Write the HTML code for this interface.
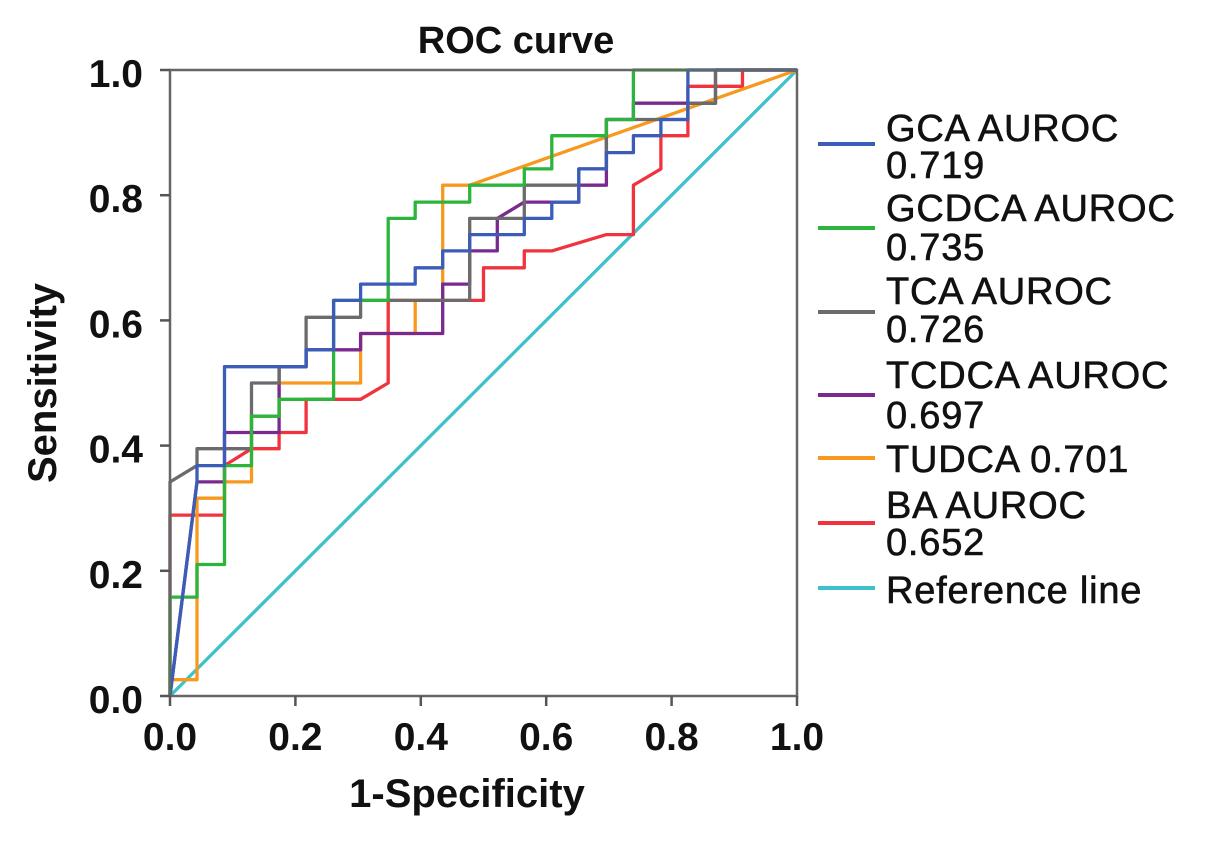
<!DOCTYPE html>
<html><head><meta charset="utf-8"><style>
html,body{margin:0;padding:0;background:#fff;}
svg text{font-family:"Liberation Sans",Arial,sans-serif;}
</style></head><body>
<svg width="1205" height="841" viewBox="0 0 1205 841">
<g id="plot"></g>
<g id="axes"></g>
<g id="legend"></g>
</svg>
<script>
const xTicks = [0.0, 0.2, 0.4, 0.6, 0.8, 1.0];
const yTicks = [0.0, 0.2, 0.4, 0.6, 0.8, 1.0];
const seriesNames = ["GCA AUROC 0.719","GCDCA AUROC 0.735","TCA AUROC 0.726","TCDCA AUROC 0.697","TUDCA 0.701","BA AUROC 0.652","Reference line"];
const gcaPts = [[0,0],[0.043,0.342],[0.043,0.368],[0.087,0.368],[0.087,0.526],[0.217,0.526],[0.217,0.553],[0.261,0.553],[0.261,0.632],[0.304,0.632],[0.304,0.658],[0.391,0.658],[0.391,0.684],[0.435,0.684],[0.435,0.711],[0.478,0.711],[0.478,0.737],[0.565,0.737],[0.565,0.763],[0.609,0.763],[0.609,0.789],[0.652,0.789],[0.652,0.842],[0.696,0.842],[0.696,0.868],[0.739,0.868],[0.739,0.895],[0.783,0.895],[0.783,0.921],[0.826,0.921],[0.826,1],[1,1]];
const gcdcaPts = [[0,0],[0,0.158],[0.043,0.158],[0.043,0.21],[0.087,0.21],[0.087,0.368],[0.13,0.368],[0.13,0.447],[0.174,0.447],[0.174,0.474],[0.261,0.474],[0.261,0.632],[0.348,0.632],[0.348,0.763],[0.391,0.763],[0.391,0.789],[0.478,0.789],[0.478,0.816],[0.565,0.816],[0.565,0.842],[0.609,0.842],[0.609,0.895],[0.696,0.895],[0.696,0.921],[0.739,0.921],[0.739,1],[1,1]];
const tcaPts = [[0,0],[0,0.342],[0.043,0.368],[0.043,0.395],[0.13,0.395],[0.13,0.5],[0.174,0.5],[0.174,0.526],[0.217,0.526],[0.217,0.605],[0.304,0.605],[0.304,0.632],[0.478,0.632],[0.478,0.763],[0.565,0.763],[0.565,0.816],[0.652,0.816],[0.652,0.842],[0.696,0.842],[0.696,0.921],[0.826,0.921],[0.826,0.947],[0.87,0.947],[0.87,1],[1,1]];
const tcdcaPts = [[0,0],[0.043,0.342],[0.087,0.342],[0.087,0.421],[0.174,0.421],[0.174,0.526],[0.217,0.526],[0.217,0.553],[0.304,0.553],[0.304,0.579],[0.435,0.579],[0.435,0.658],[0.478,0.658],[0.478,0.711],[0.522,0.711],[0.522,0.763],[0.565,0.789],[0.652,0.789],[0.652,0.816],[0.696,0.816],[0.696,0.921],[0.739,0.921],[0.739,0.947],[0.87,0.947],[0.87,1],[1,1]];
const tudcaPts = [[0,0],[0,0.026],[0.043,0.026],[0.043,0.316],[0.087,0.316],[0.087,0.342],[0.13,0.342],[0.13,0.447],[0.174,0.447],[0.174,0.5],[0.304,0.5],[0.304,0.579],[0.391,0.579],[0.391,0.632],[0.435,0.632],[0.435,0.816],[0.478,0.816],[1,1]];
const baPts = [[0,0],[0,0.289],[0.087,0.289],[0.087,0.368],[0.13,0.395],[0.174,0.395],[0.174,0.421],[0.217,0.421],[0.217,0.474],[0.304,0.474],[0.348,0.5],[0.348,0.632],[0.5,0.632],[0.5,0.684],[0.565,0.684],[0.565,0.711],[0.609,0.711],[0.696,0.737],[0.739,0.737],[0.739,0.816],[0.783,0.842],[0.783,0.895],[0.826,0.895],[0.826,0.974],[0.913,0.974],[0.913,1],[1,1]];
const refPts = [[0,0],[1,1]];

const NS="http://www.w3.org/2000/svg";
const X0=170,X1=797,Y0=696,Y1=70;
function sx(v){return X0+(X1-X0)*v;}
function sy(v){return Y0-(Y0-Y1)*v;}
function mk(t,a,p){const e=document.createElementNS(NS,t);for(const k in a)e.setAttribute(k,a[k]);p.appendChild(e);return e;}
const plot=document.getElementById('plot'),axes=document.getElementById('axes'),leg=document.getElementById('legend');

let frame=mk('rect',{x:X0,y:Y1,width:X1-X0,height:Y0-Y1,fill:'none',stroke:'#666','stroke-width':2.5},axes);



const series=[
 {pts:refPts,c:'#3ec1c9',n:'reference-line'},
 {pts:baPts,c:'#f0333c',n:'ba-curve'},
 {pts:tudcaPts,c:'#f7991f',n:'tudca-curve'},
 {pts:tcdcaPts,c:'#7a2a8f',n:'tcdca-curve'},
 {pts:tcaPts,c:'#6b6b6b',n:'tca-curve'},
 {pts:gcdcaPts,c:'#2cb43c',n:'gcdca-curve'},
 {pts:gcaPts,c:'#3b5db8',n:'gca-curve'}
];
series.forEach(s=>{
 const d=s.pts.map((p,i)=>(i?'L':'M')+sx(p[0]).toFixed(1)+','+sy(p[1]).toFixed(1)).join('');
 const el=mk('path',{d:d,fill:'none',stroke:s.c,'stroke-width':3.3,'stroke-linejoin':'round'},plot);
 
 
});

xTicks.forEach(v=>{
 mk('line',{x1:sx(v),x2:sx(v),y1:Y0,y2:Y0+10,stroke:'#555','stroke-width':2.5},axes);
 const t=mk('text',{x:sx(v),y:750,'text-anchor':'middle','font-size':39,'font-weight':'bold',fill:'#111'},axes);
 t.textContent=v.toFixed(1);
 
 
});
yTicks.forEach(v=>{
 mk('line',{x1:X0-10,x2:X0,y1:sy(v),y2:sy(v),stroke:'#555','stroke-width':2.5},axes);
 const t=mk('text',{x:143,y:sy(v)+17,'text-anchor':'end','font-size':39,'font-weight':'bold',fill:'#111'},axes);
 t.textContent=v.toFixed(1);
 
 
});
let tt=mk('text',{x:516,y:53,'text-anchor':'middle','font-size':38,'font-weight':'bold',fill:'#111'},axes);
tt.textContent='ROC curve';


let xt=mk('text',{x:467,y:807,'text-anchor':'middle','font-size':40,'font-weight':'bold',fill:'#111'},axes);
xt.textContent='1-Specificity';


let yt=mk('text',{x:0,y:0,'text-anchor':'middle','font-size':40,'font-weight':'bold',fill:'#111',transform:'translate(56,383) rotate(-90)'},axes);
yt.textContent='Sensitivity';



const legColors=['#3b5db8','#2cb43c','#6b6b6b','#7a2a8f','#f7991f','#f0333c','#3ec1c9'];
const legLines=[["GCA AUROC","0.719"],["GCDCA AUROC","0.735"],["TCA AUROC","0.726"],["TCDCA AUROC","0.697"],["TUDCA 0.701"],["BA AUROC","0.652"],["Reference line"]];
const legY=[144,228,312,395,458,523,588];
const legBase=[[141,178],[221,260],[304,342],[388,428],[472],[518,555],[603]];
legLines.forEach((lines,i)=>{
 const g=mk('g',{},leg);
 
 
 mk('line',{x1:818,x2:875,y1:legY[i],y2:legY[i],stroke:legColors[i],'stroke-width':4},g);
 lines.forEach((s,j)=>{
  const t=mk('text',{x:886,y:legBase[i][j],'font-size':38,'letter-spacing':0.8,fill:'#111',stroke:'#111','stroke-width':0.6},g);
  t.textContent=s;
 });
});
</script>
</body></html>
